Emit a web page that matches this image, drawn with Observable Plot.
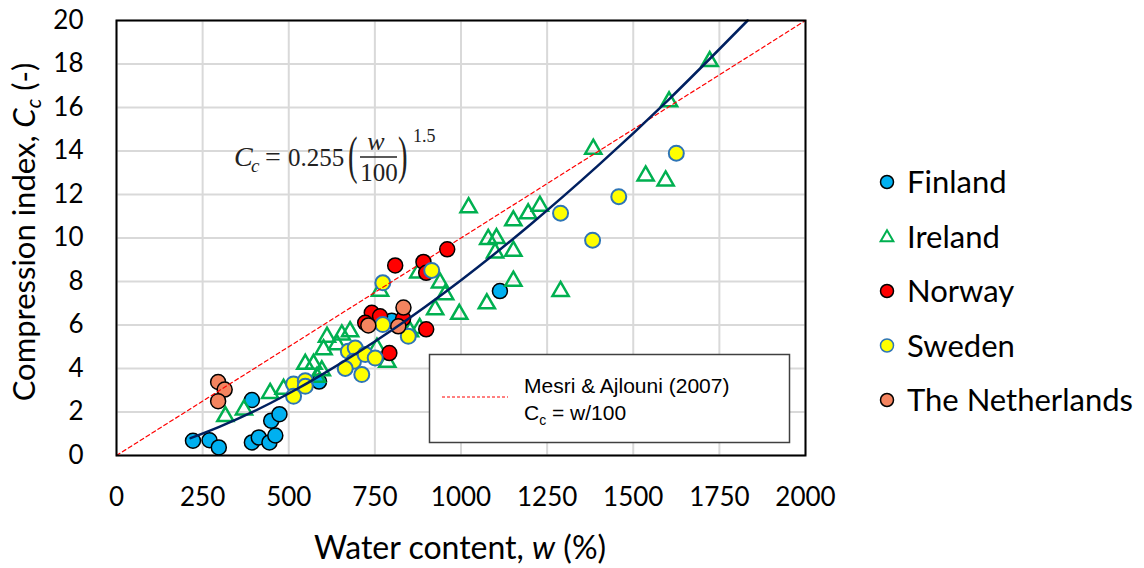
<!DOCTYPE html>
<html><head><meta charset="utf-8">
<script src="https://cdn.jsdelivr.net/npm/d3@7"></script>
<script src="https://cdn.jsdelivr.net/npm/@observablehq/plot@0.6"></script>
<style>
body{margin:0;background:#fff;}
#wrap{position:relative;width:1144px;height:568px;overflow:hidden;background:#fff}
#overlay{position:absolute;left:0;top:0;pointer-events:none}
</style></head><body><div id="wrap"></div>
<script>
// ---- data: [water content w (%), Cc] ----
const finland = [[222,0.68],[270,0.7],[297,0.37],[393,2.55],[393,0.6],[413,0.83],[444,0.6],[461,0.92],[449,1.6],[473,1.9],[588,3.4],[799,6.2],[1113,7.56]];
const ireland = [[316,1.8],[370,2.1],[446,2.86],[485,3.05],[548,4.2],[572,4.2],[596,3.9],[582,3.6],[601,4.87],[611,5.45],[640,5.1],[654,5.55],[678,5.7],[756,4.94],[786,4.3],[765,7.56],[876,8.4],[852,5.7],[880,5.85],[939,7.94],[954,7.4],[925,6.71],[995,6.5],[1022,11.4],[1075,6.98],[1079,9.94],[1103,9.98],[1099,9.32],[1152,9.4],[1152,10.8],[1152,8.02],[1195,11.12],[1229,11.47],[1289,7.55],[1384,14.09],[1536,12.86],[1594,12.63],[1604,16.27],[1722,18.12]];
const norway = [[741,6.56],[722,6.1],[765,6.4],[792,4.71],[899,5.8],[809,8.74],[891,8.9],[899,8.4],[960,9.48],[832,6.3]];
const sweden = [[514,3.29],[548,3.44],[514,2.72],[548,3.18],[673,4.79],[693,4.94],[688,4.33],[664,4.0],[712,3.72],[722,4.64],[751,4.48],[773,6.02],[847,5.48],[773,7.94],[915,8.51],[1289,11.14],[1382,9.9],[1458,11.9],[1625,13.9]];
const netherlands = [[295,3.38],[314,3.03],[295,2.5],[731,5.98],[833,6.8],[818,5.94]];
// fitted curve Cc = 0.255 (w/100)^1.5
const fitW  = [215, 300, 400, 500, 600, 800, 1000, 1200, 1400, 1600, 1832];
const fitCc = [0.80, 1.33, 2.04, 2.85, 3.75, 5.77, 8.06, 10.6, 13.36, 16.32, 20.0];
// Mesri & Ajlouni (2007): Cc = w/100
const mesriW  = [0, 2000];
const mesriCc = [0, 20];
const xTicks = [0,250,500,750,1000,1250,1500,1750,2000];
const yTicks = [0,2,4,6,8,10,12,14,16,18,20];
const legendNames = ["Finland","Ireland","Norway","Sweden","The Netherlands"];

const toObj = a => a.map(([w,c]) => ({w, c}));
const fit = fitW.map((w,i) => ({w, c: fitCc[i]}));
const mesri = mesriW.map((w,i) => ({w, c: mesriCc[i]}));

const styles = {
  Finland: {fill:"#00b0f0", stroke:"#000", strokeWidth:1.5},
  Ireland: {fill:"none", stroke:"#00b050", strokeWidth:2.5, symbol:"triangle"},
  Norway: {fill:"#ff0000", stroke:"#000", strokeWidth:1.5},
  Sweden: {fill:"#ffff00", stroke:"#2e75b6", strokeWidth:2},
  "The Netherlands": {fill:"#f4845f", stroke:"#000", strokeWidth:1.5}
};

const plot = Plot.plot({
  width: 1144, height: 568,
  marginLeft: 116, marginRight: 339, marginTop: 20, marginBottom: 113,
  style: {fontFamily: "Lato, sans-serif", fontSize: "26px", color: "#000", background: "transparent"},
  x: {domain: [0, 2000], label: null},
  y: {domain: [0, 20], label: null},
  marks: [
    Plot.gridX(xTicks, {stroke: "#d9d9d9", strokeOpacity: 1, strokeWidth: 2}),
    Plot.gridY(yTicks, {stroke: "#d9d9d9", strokeOpacity: 1, strokeWidth: 2}),
    Plot.axisX(xTicks, {tickSize: 0, tickPadding: 32, label: null, tickFormat: d => String(d), fontSize: 26}),
    Plot.axisY(yTicks, {tickSize: 0, tickPadding: 33, label: null, tickFormat: d => String(d), fontSize: 26}),
    Plot.dot(toObj(finland), {x: "w", y: "c", r: 7.5, ...styles.Finland}),
    Plot.dot(toObj(ireland), {x: "w", y: "c", r: 6, ...styles.Ireland}),
    Plot.dot(toObj(norway), {x: "w", y: "c", r: 7.5, ...styles.Norway}),
    Plot.dot(toObj(sweden), {x: "w", y: "c", r: 7.5, ...styles.Sweden}),
    Plot.dot(toObj(netherlands), {x: "w", y: "c", r: 7.5, ...styles["The Netherlands"]}),
    Plot.line(mesri, {x: "w", y: "c", stroke: "#ff0000", strokeWidth: 1.2, strokeDasharray: "4,3"}),
    Plot.line(fit, {x: "w", y: "c", stroke: "#002060", strokeWidth: 2.5, curve: "catmull-rom"}),
    Plot.frame({stroke: "#000", strokeWidth: 2})
  ]
});
const wrap = document.getElementById("wrap");
wrap.appendChild(plot);

// ---- overlay: titles, equation, legends ----
const ov = d3.select(wrap).append("svg").attr("id","overlay").attr("width",1144).attr("height",568);

// axis titles
const xt = ov.append("text").attr("x", 460).attr("y", 559).attr("text-anchor","middle")
  .attr("font-family","Lato, sans-serif").attr("font-size",32).attr("fill","#000");
xt.append("tspan").text("Water content, ");
xt.append("tspan").attr("font-style","italic").text("w");
xt.append("tspan").text(" (%)");

const yt = ov.append("text").attr("transform","translate(35,232) rotate(-90)").attr("text-anchor","middle")
  .attr("font-family","Lato, sans-serif").attr("font-size",31).attr("fill","#000");
yt.append("tspan").text("Compression index, ");
yt.append("tspan").attr("font-style","italic").text("C");
yt.append("tspan").attr("font-style","italic").attr("font-size",21).attr("dy",6).text("c");
yt.append("tspan").attr("dy",-6).text(" (-)");

// equation
const eqFont = "'Liberation Serif', 'DejaVu Serif', serif";
const eq = ov.append("g").attr("font-family", eqFont).attr("fill","#222");
eq.append("text").attr("x",234).attr("y",166).attr("font-size",28).attr("font-style","italic").text("C");
eq.append("text").attr("x",251).attr("y",172).attr("font-size",19).attr("font-style","italic").text("c");
eq.append("text").attr("x",265).attr("y",166).attr("font-size",28).text("=");
eq.append("text").attr("x",288).attr("y",166).attr("font-size",25).text("0.255");
eq.append("text").attr("transform","translate(348,173) scale(0.55,1)").attr("font-size",52).text("(");
eq.append("text").attr("x",376).attr("y",150).attr("font-size",26).attr("font-style","italic").attr("text-anchor","middle").text("w");
eq.append("line").attr("x1",360).attr("x2",397).attr("y1",157).attr("y2",157).attr("stroke","#222").attr("stroke-width",1.3);
eq.append("text").attr("x",379).attr("y",181).attr("font-size",25).attr("text-anchor","middle").text("100");
eq.append("text").attr("transform","translate(398,173) scale(0.55,1)").attr("font-size",52).text(")");
eq.append("text").attr("x",413).attr("y",142).attr("font-size",18).text("1.5");

// inner legend box
const lb = ov.append("g");
lb.append("rect").attr("x",429.5).attr("y",354.5).attr("width",360).attr("height",88)
  .attr("fill","#fff").attr("stroke","#404040").attr("stroke-width",1.5);
lb.append("line").attr("x1",442).attr("x2",508).attr("y1",397).attr("y2",397)
  .attr("stroke","#ff0000").attr("stroke-width",1).attr("stroke-dasharray","3,2");
lb.append("text").attr("x",524).attr("y",393).attr("font-family","'Liberation Sans', Arial, sans-serif")
  .attr("font-size",21).attr("fill","#000").text("Mesri & Ajlouni  (2007)");
const l2 = lb.append("text").attr("x",524).attr("y",420).attr("font-family","'Liberation Sans', Arial, sans-serif")
  .attr("font-size",21).attr("fill","#000");
l2.append("tspan").text("C");
l2.append("tspan").attr("font-size",14).attr("dy",5).text("c");
l2.append("tspan").attr("dy",-5).text(" = w/100");

// right legend
legendNames.forEach((name, i) => {
  const y = 182 + i * 54.5;
  const s = styles[name];
  if (s.symbol === "triangle") {
    ov.append("path").attr("transform",`translate(887,${y+1})`).attr("d", d3.symbol(d3.symbolTriangle, 70)())
      .attr("fill","none").attr("stroke",s.stroke).attr("stroke-width",2);
  } else {
    ov.append("circle").attr("cx",887).attr("cy",y).attr("r",6.5)
      .attr("fill",s.fill).attr("stroke",s.stroke).attr("stroke-width",1.5);
  }
  ov.append("text").attr("x",907).attr("y",y+11).attr("font-family","Lato, sans-serif")
    .attr("font-size",31).attr("fill","#000").text(name);
});
</script>
</body></html>
